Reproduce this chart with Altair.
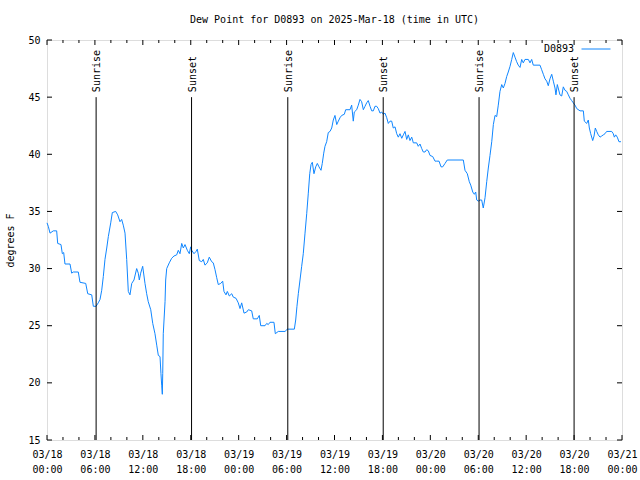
import altair as alt
import pandas as pd

FONT = "DejaVu Sans Mono"
BLUE = "#0f86ff"

# hours since 2025-03-18 00:00 UTC
hours = [0.00, 0.16, 0.38, 0.79, 1.21, 1.34, 1.75, 1.92, 2.09, 2.25, 2.88, 3.09, 3.29, 3.92, 4.13,
         4.85, 5.10, 5.60, 5.80, 6.14, 6.42, 6.64, 6.85, 7.05, 7.26, 7.48, 7.68, 7.98, 8.18, 8.60,
         8.85, 9.14, 9.35, 9.55, 9.77, 9.98, 10.18, 10.39, 10.61, 10.89, 11.23, 11.43, 11.56, 11.73,
         11.98, 12.27, 12.48, 12.68, 12.99, 13.24, 13.52, 13.74, 13.94, 14.15, 14.27, 14.36, 14.44,
         14.49, 14.56, 14.78, 14.86, 14.99, 15.31, 15.61, 15.90, 16.24, 16.44, 16.65, 16.87, 17.07,
         17.28, 17.57, 17.82, 17.99, 18.12, 18.41, 18.66, 18.82, 19.07, 19.37, 19.57, 19.78, 20.07,
         20.32, 20.62, 20.82, 21.04, 21.25, 21.45, 21.75, 22.00, 22.16, 22.41, 22.58, 22.83, 23.13,
         23.33, 23.67, 23.95, 24.17, 24.38, 24.67, 25.01, 25.21, 25.63, 25.83, 26.33, 26.58, 26.76,
         27.30, 27.51, 27.71, 27.92, 28.42, 28.59, 28.96, 29.80, 30.10, 30.97, 31.14, 31.30, 31.47,
         31.68, 31.89, 32.09, 32.31, 32.52, 32.72, 32.90, 33.06, 33.22, 33.43, 33.65, 33.85, 34.06,
         34.31, 34.47, 34.65, 34.81, 35.02, 35.22, 35.44, 35.65, 35.85, 36.06, 36.28, 36.48, 36.69,
         36.90, 37.23, 37.40, 37.94, 38.15, 38.35, 38.48, 38.78, 38.98, 39.19, 39.40, 39.61, 39.82,
         40.03, 40.23, 40.45, 40.66, 40.86, 41.07, 41.28, 41.48, 41.70, 41.91, 42.11, 42.32, 42.54,
         42.74, 42.95, 43.16, 43.36, 43.58, 43.79, 43.99, 44.20, 44.42, 44.62, 44.83, 45.04, 45.24,
         45.45, 45.67, 45.87, 46.29, 46.49, 46.71, 46.92, 47.12, 47.33, 47.54, 47.75, 47.96, 48.30,
         48.59, 48.80, 49.09, 49.34, 49.55, 49.84, 50.12, 52.13, 52.34, 52.63, 52.88, 53.06, 53.31,
         53.51, 53.68, 53.81, 54.01, 54.22, 54.43, 54.63, 54.85, 55.06, 55.26, 55.47, 55.69, 55.89,
         56.10, 56.31, 56.51, 56.72, 56.94, 57.14, 57.35, 57.56, 57.76, 57.98, 58.19, 58.39, 58.60,
         58.81, 59.01, 59.23, 59.44, 59.64, 59.85, 60.27, 60.48, 60.69, 60.89, 61.73, 61.94, 62.15,
         62.36, 62.57, 62.77, 62.98, 63.20, 63.40, 63.61, 63.73, 63.90, 64.23, 64.45, 64.65, 64.86,
         65.08, 65.28, 65.49, 65.70, 65.90, 66.12, 66.33, 66.74, 67.16, 67.28, 67.58, 67.78, 67.91,
         68.08, 68.33, 68.50, 68.66, 68.83, 69.03, 69.25, 69.46, 69.66, 69.87, 70.08, 70.71, 70.91,
         71.04, 71.21, 71.41, 71.62, 71.87]

dewpoint = [34.0, 33.7, 33.1, 33.3, 33.3, 32.2, 32.1, 31.3, 31.4, 30.4, 30.4, 29.6, 29.7, 29.7, 28.8,
            28.7, 27.8, 27.7, 26.7, 26.7, 27.0, 27.3, 28.1, 29.3, 30.8, 31.8, 32.8, 34.0, 34.9, 35.0,
            34.7, 34.1, 34.3, 33.8, 33.1, 30.8, 28.0, 27.7, 28.7, 29.0, 30.0, 29.6, 29.0, 29.6,
            30.2, 28.7, 27.8, 27.1, 26.4, 25.2, 24.3, 23.3, 22.4, 22.3, 20.8, 19.8, 19.0,
            20.8, 24.3, 27.1, 29.0, 30.0, 30.5, 30.9, 31.1, 31.2, 31.6, 31.3, 32.2, 31.8,
            32.1, 31.6, 31.3, 31.9, 31.6, 31.3, 31.5, 31.7, 30.7, 30.6, 30.8, 30.3, 30.5,
            31.0, 30.6, 30.5, 29.9, 29.2, 28.6, 28.7, 28.9, 28.0, 27.7, 28.0, 27.6, 27.8,
            27.5, 27.4, 27.0, 26.5, 27.0, 26.1, 26.2, 26.4, 26.3, 25.6, 25.6, 25.9, 25.0,
            25.0, 25.2, 25.1, 25.3, 25.3, 24.3, 24.5, 24.5, 24.7, 24.7, 25.5, 26.7, 27.8,
            29.0, 30.2, 31.3, 33.1, 34.8, 36.6, 38.3, 39.1, 39.3, 38.3, 38.9, 39.2, 38.9,
            38.6, 39.2, 40.1, 40.7, 41.1, 41.9, 42.0, 42.3, 43.0, 43.4, 42.6, 42.9, 43.2,
            43.4, 43.5, 43.9, 43.9, 44.3, 42.9, 43.7, 43.9, 44.3, 44.8, 44.6, 43.9, 44.2,
            44.5, 44.7, 44.2, 43.8, 43.8, 44.2, 44.2, 44.0, 43.6, 43.7, 43.5, 43.6, 43.2,
            42.7, 42.9, 42.9, 42.3, 42.4, 41.8, 41.5, 41.8, 41.4, 41.7, 42.0, 41.3, 41.7,
            41.2, 41.5, 41.0, 41.0, 40.7, 40.9, 40.5, 40.2, 40.2, 40.4, 40.3, 39.9, 39.8,
            39.4, 39.4, 39.4, 38.9, 38.9, 39.2, 39.5, 39.5, 38.6, 38.3, 37.6, 37.3, 36.7,
            36.5, 36.7, 36.0, 35.9, 36.0, 36.0, 35.3, 36.2, 37.6, 38.8, 39.9, 41.1, 42.6,
            43.4, 43.3, 44.3, 45.5, 46.1, 45.8, 46.2, 46.8, 47.2, 47.7, 48.3, 48.9, 48.5,
            48.1, 47.8, 47.6, 48.3, 48.0, 48.3, 48.3, 48.0, 48.3, 47.8, 47.8, 47.4, 47.0,
            46.6, 46.4, 46.0, 46.6, 47.0, 46.4, 45.8, 45.2, 46.1, 45.2, 45.1, 45.9, 45.6,
            45.5, 45.2, 44.9, 44.7, 44.5, 44.3, 44.0, 43.8, 43.8, 42.9, 42.7, 43.0, 42.3,
            41.8, 41.2, 41.6, 42.3, 42.0, 41.7, 41.5, 41.6, 41.7, 41.8, 42.0, 42.0, 41.8,
            41.5, 41.7, 41.5, 41.1, 41.1]

event_hours = [6.15, 18.10, 30.15, 42.10, 54.10, 66.00]
event_names = ["Sunrise", "Sunset", "Sunrise", "Sunset", "Sunrise", "Sunset"]

x_major = [0, 6, 12, 18, 24, 30, 36, 42, 48, 54, 60, 66, 72]
x_minor = [2, 4, 8, 10, 14, 16, 20, 22, 26, 28, 32, 34, 38, 40, 44, 46, 50, 52, 56, 58, 62, 64, 68, 70]
y_ticks = [15, 20, 25, 30, 35, 40, 45, 50]

W, H = 575, 400

df = pd.DataFrame({"hour": hours, "dewpt": dewpoint, "series": "D0893"})
ev = pd.DataFrame({"hour": event_hours, "name": event_names})
xmaj = pd.DataFrame({"hour": x_major})
xmin = pd.DataFrame({"hour": x_minor})
ytk = pd.DataFrame({"dewpt": y_ticks})

xscale = alt.Scale(domain=[0, 72], nice=False, zero=False)
yscale = alt.Scale(domain=[15, 50], nice=False, zero=False)

label_expr = ("['03/' + (18 + floor(datum.value / 24)), "
              "((datum.value % 24) < 10 ? '0' : '') + (datum.value % 24) + ':00']")

x_axis = alt.Axis(values=x_major, labelExpr=label_expr, ticks=False, tickSize=0,
                  domain=False, grid=False, title=None, labelPadding=9,
                  labelFlush=False, labelOverlap=False, labelBound=False,
                  labelLineHeight=15, labelFont=FONT, labelFontSize=10,
                  labelColor="black")
y_axis = alt.Axis(values=y_ticks, ticks=False, tickSize=0, domain=False, grid=False,
                  title="degrees F", titleFont=FONT, titleFontSize=10,
                  titleFontWeight="normal", titleColor="black",
                  titleX=-37, titleY=H / 2, titleAngle=270, titleAlign="center",
                  titleBaseline="middle", labelPadding=7, labelFont=FONT,
                  labelFontSize=10, labelColor="black", labelOverlap=False,
                  labelFlush=False)

line = alt.Chart(df).mark_line(strokeWidth=1, interpolate="linear").encode(
    x=alt.X("hour:Q", scale=xscale, axis=x_axis),
    y=alt.Y("dewpt:Q", scale=yscale, axis=y_axis),
    color=alt.Color("series:N", scale=alt.Scale(range=[BLUE]),
                    legend=alt.Legend(orient="none", legendX=534, legendY=-6, title=None,
                                      symbolType="stroke", symbolSize=841,
                                      symbolStrokeWidth=1, labelAlign="right",
                                      labelOffset={"expr": "-37"}, labelFont=FONT,
                                      labelFontSize=10, labelColor="black", padding=0)),
)


def xticks(data, top, length):
    y0 = 0 if top else H
    y1 = length if top else H - length
    return alt.Chart(data).mark_rule(color="black", strokeWidth=1).encode(
        x=alt.X("hour:Q", scale=xscale, axis=x_axis),
        y=alt.value(y0), y2=alt.value(y1))


def yticks(right, length):
    x0 = W if right else 0
    x1 = W - length if right else length
    return alt.Chart(ytk).mark_rule(color="black", strokeWidth=1).encode(
        y=alt.Y("dewpt:Q", scale=yscale, axis=y_axis),
        x=alt.value(x0), x2=alt.value(x1))


tick_layers = [
    xticks(xmaj, False, 5), xticks(xmaj, True, 5),
    xticks(xmin, False, 3), xticks(xmin, True, 3),
    yticks(False, 5), yticks(True, 5),
]

rules = alt.Chart(ev).mark_rule(color="black", strokeWidth=1).encode(
    x=alt.X("hour:Q", scale=xscale, axis=x_axis),
    y=alt.YDatum(45, scale=yscale, axis=y_axis), y2=alt.datum(15))

labels = alt.Chart(ev).mark_text(angle=270, align="left", baseline="middle", dx=5, dy=1,
                                 font=FONT, fontSize=10, color="black").encode(
    x=alt.X("hour:Q", scale=xscale, axis=x_axis),
    y=alt.YDatum(45, scale=yscale, axis=y_axis),
    text="name:N")

chart = alt.layer(line, *tick_layers, rules, labels).properties(
    width=W, height=H,
    title=alt.TitleParams("Dew Point for D0893 on 2025-Mar-18 (time in UTC)", font=FONT,
                          fontSize=10, fontWeight="normal", anchor="middle", offset=9,
                          color="black"),
    padding={"left": 47, "top": 40, "right": 18, "bottom": 40},
    autosize=alt.AutoSizeParams(type="none"),
).configure_view(stroke="black", strokeWidth=1).configure(background="white")

chart.save("out.html", embed_options={"renderer": "svg", "actions": False})
